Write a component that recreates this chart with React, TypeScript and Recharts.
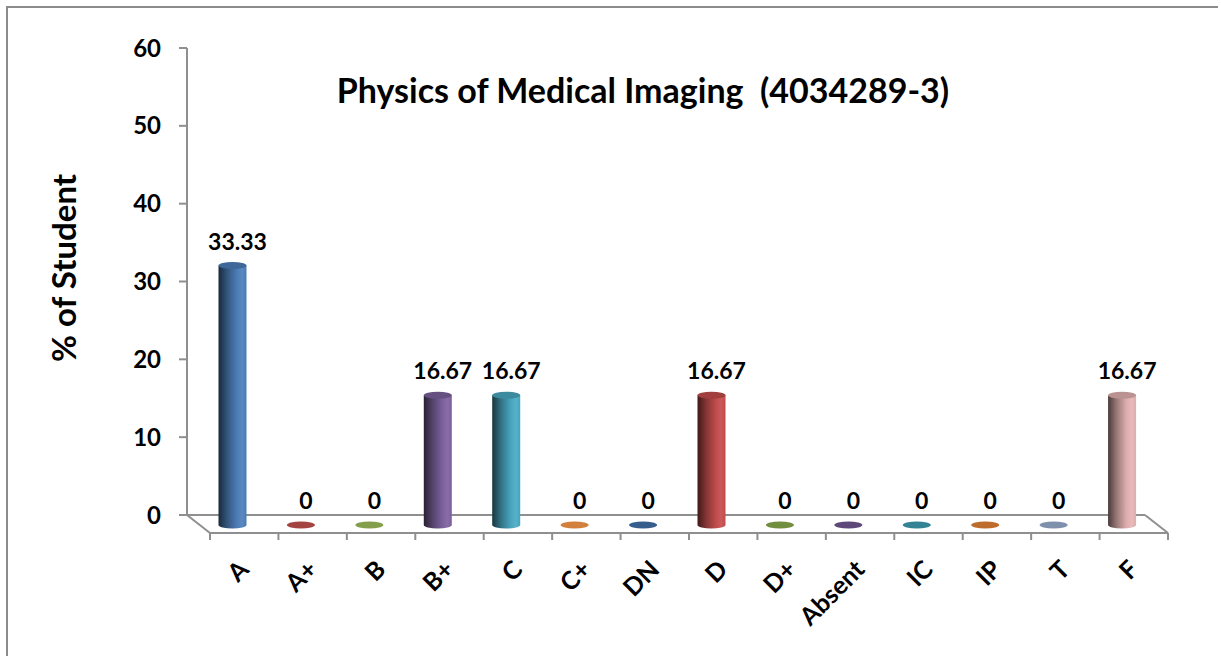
import React from 'react';
import { BarChart, Bar, XAxis, YAxis, LabelList, Customized } from 'recharts';

// ---- data ----
const categories = ['A', 'A+', 'B', 'B+', 'C', 'C+', 'DN', 'D', 'D+', 'Absent', 'IC', 'IP', 'T', 'F'];
const percentOfStudents = [33.33, 0, 0, 16.67, 16.67, 0, 0, 16.67, 0, 0, 0, 0, 0, 16.67];
const yTicks = [0, 10, 20, 30, 40, 50, 60];
const barColors = [
  '#4F81BD', '#C0504D', '#9BBB59', '#8064A2', '#4BACC6', '#F79646',
  '#3F6FA6', '#C94F4F', '#86A84A', '#6E5590', '#3C9AB0', '#E07F33',
  '#95A9CB', '#E8B6B5',
];
const chartTitle = 'Physics of Medical Imaging  (4034289-3)';
const yAxisTitle = '% of Student';

const data = categories.map((c, i) => ({ category: c, value: percentOfStudents[i] }));

// ---- layout ----
const W = 1210;
const H = 648;
const X_AXIS_H = 30;
const MARGIN = { top: 40, right: 73, bottom: 111, left: 0 };
const Y_AXIS_W = 179;
const DX = 23; // depth offset of floor
const DY = 18;
const FONT = 'Lato, "Open Sans", sans-serif';
const AXIS_GRAY = '#8f8f8f';

function hexToRgb(h: string) {
  const n = parseInt(h.slice(1), 16);
  return [(n >> 16) & 255, (n >> 8) & 255, n & 255];
}
function mix(a: string, b: string, t: number) {
  const A = hexToRgb(a);
  const B = hexToRgb(b);
  const c = A.map((v, k) => Math.round(v + (B[k] - v) * t));
  return `rgb(${c[0]},${c[1]},${c[2]})`;
}

function Decorations() {
  const left = Y_AXIS_W + MARGIN.left;
  const right = W - MARGIN.right;
  const bottom = H - MARGIN.bottom - X_AXIS_H;
  const n = categories.length;
  const step = (right - left) / n;
  const ticks = [];
  for (let i = 0; i <= n; i++) {
    const tx = left + DX + i * step;
    ticks.push(<line key={i} x1={tx} y1={bottom + DY} x2={tx} y2={bottom + DY + 7} stroke={AXIS_GRAY} strokeWidth={2} />);
  }
  return (
    <g>
      <defs>
        {barColors.map((c, i) => (
          <linearGradient key={i} id={`cyl${i}`} x1="0" y1="0" x2="1" y2="0">
            <stop offset="0%" stopColor={mix(c, '#000000', 0.68)} />
            <stop offset="30%" stopColor={mix(c, '#000000', 0.35)} />
            <stop offset="65%" stopColor={mix(c, '#000000', 0.05)} />
            <stop offset="85%" stopColor={mix(c, '#ffffff', 0.06)} />
            <stop offset="100%" stopColor={mix(c, '#000000', 0.05)} />
          </linearGradient>
        ))}
      </defs>
      <line x1={left} y1={bottom} x2={right} y2={bottom} stroke={AXIS_GRAY} strokeWidth={2} />
      <line x1={left} y1={bottom} x2={left + DX} y2={bottom + DY} stroke={AXIS_GRAY} strokeWidth={2} />
      <line x1={right} y1={bottom} x2={right + DX} y2={bottom + DY} stroke={AXIS_GRAY} strokeWidth={2} />
      <line x1={left + DX} y1={bottom + DY} x2={right + DX} y2={bottom + DY} stroke={AXIS_GRAY} strokeWidth={2} />
      {ticks}
      <text x={635} y={95} textAnchor="middle" fontFamily={FONT} fontWeight={700} fontSize={34} fill="#000" style={{ whiteSpace: 'pre' }}>
        {chartTitle}
      </text>
      <text x={68} y={260} transform="rotate(-90, 68, 260)" textAnchor="middle" fontFamily={FONT} fontWeight={700} fontSize={33} fill="#000">
        {yAxisTitle}
      </text>
    </g>
  );
}

function Cylinder(props: any) {
  const { x, y, width, height, payload } = props;
  const i = categories.indexOf(payload.category);
  const base = barColors[i];
  const cx = x + width / 2 + DX / 2;
  const rx = width / 2;
  const ry = 3.5;
  const top = y + 10;
  const bot = y + height + 10;
  if (!(height > 0.5)) {
    return <ellipse cx={cx} cy={bot} rx={rx} ry={ry} fill={mix(base, '#000000', 0.15)} />;
  }
  return (
    <g>
      <path
        d={`M${cx - rx},${top} L${cx - rx},${bot} A${rx},${ry} 0 0 0 ${cx + rx},${bot} L${cx + rx},${top} Z`}
        fill={`url(#cyl${i})`}
      />
      <ellipse cx={cx} cy={top} rx={rx} ry={ry} fill={mix(base, '#000000', 0.2)} />
    </g>
  );
}

function ValueLabel(props: any) {
  const { x, y, width, value } = props;
  const cx = x + width / 2 + DX / 2 + 5;
  return (
    <text x={cx} y={y - 6} textAnchor="middle" fontFamily={FONT} fontWeight={700} fontSize={23} fill="#000">
      {String(value)}
    </text>
  );
}

function XTick(props: any) {
  const { x, payload } = props;
  const bottom = H - MARGIN.bottom - X_AXIS_H;
  const px = x + DX + 6;
  const py = bottom + 56;
  return (
    <text x={px} y={py} transform={`rotate(-45, ${px}, ${py})`} textAnchor="end" fontFamily={FONT} fontWeight={700} fontSize={25} fill="#000">
      {payload.value}
    </text>
  );
}

export default function App() {
  return (
    <>
      <style>{'html,body{overflow:hidden;background:#fff}'}</style>
      <div
        style={{
          position: 'absolute',
          left: 6,
          top: 6,
          width: W,
          height: H,
          overflow: 'hidden',
          borderTop: '2px solid #8c8c8c',
          borderLeft: '2px solid #8c8c8c',
          background: '#fff',
        }}
      >
        <BarChart width={W} height={H} data={data} margin={MARGIN}>
          <Customized component={<Decorations />} />
          <XAxis dataKey="category" axisLine={false} tickLine={false} tick={<XTick />} interval={0} height={X_AXIS_H} />
          <YAxis
            domain={[0, 60]}
            ticks={yTicks}
            width={Y_AXIS_W}
            tickSize={8}
            tickMargin={18}
            axisLine={{ stroke: AXIS_GRAY, strokeWidth: 2 }}
            tickLine={{ stroke: AXIS_GRAY, strokeWidth: 2 }}
            tick={{ fontFamily: FONT, fontWeight: 700, fontSize: 24, fill: '#000' }}
          />
          <Bar dataKey="value" barSize={28} shape={<Cylinder />} isAnimationActive={false}>
            <LabelList dataKey="value" content={<ValueLabel />} />
          </Bar>
        </BarChart>
      </div>
    </>
  );
}
